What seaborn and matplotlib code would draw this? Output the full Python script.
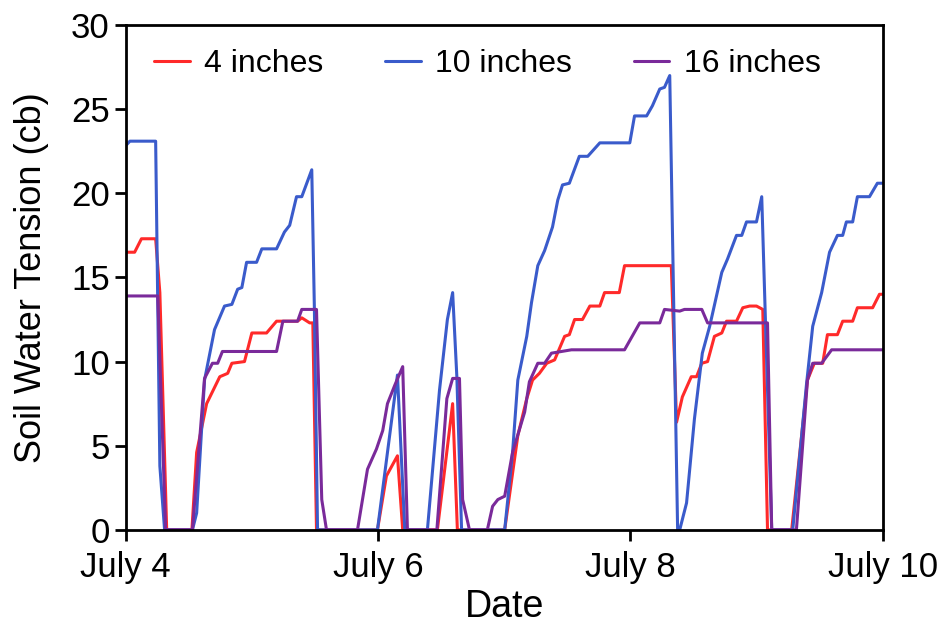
import pandas as pd
import matplotlib
matplotlib.use('Agg')
import matplotlib.pyplot as plt
import seaborn as sns

# hours after midnight of July 4
hours_4in = [0.2, 1.7, 3.0, 5.7, 6.5, 7.8, 12.6, 13.5, 15.4, 17.9, 19.4, 20.2, 22.6, 24.0, 26.8,
             28.7, 32.7, 33.5, 35.0, 35.6, 36.3, 47.9, 49.6, 51.7, 52.7, 59.3, 62.2, 63.1, 72.1,
             74.6, 76.3, 77.4, 78.7, 80.1, 81.6, 83.5, 84.4, 85.4, 86.9, 88.3, 90.2, 91.1, 93.9,
             94.9, 103.8, 104.8, 105.9, 107.6, 108.6, 109.6, 110.7, 112.0, 113.4, 114.3, 116.2,
             117.4, 118.7, 120.0, 121.2, 122.1, 126.7, 129.7, 131.0, 132.6, 133.5, 135.4, 136.4,
             138.3, 139.2, 142.1, 143.4, 144.0]
tension_4in = [16.5, 16.5, 17.3, 17.3, 14.1, 0, 0, 4.6, 7.5, 9.1, 9.3, 9.9, 10.0, 11.7, 11.7,
               12.4, 12.4, 12.6, 12.3, 12.3, 0, 0, 3.2, 4.4, 0, 0, 7.5, 0, 0,
               5.6, 7.8, 8.9, 9.3, 9.9, 10.1, 11.5, 11.6, 12.5, 12.5, 13.3, 13.3, 14.1, 14.1,
               15.7, 15.7, 6.4, 7.9, 9.1, 9.1, 9.9, 10.0, 11.5, 11.7, 12.4, 12.4,
               13.2, 13.3, 13.3, 13.1, 0, 0, 8.9, 9.9, 9.9, 11.6, 11.6, 12.4,
               12.4, 13.2, 13.2, 14.0, 14.0]

hours_10in = [0.2, 0.8, 5.7, 6.5, 7.4, 12.7, 13.5, 15.0, 16.9, 18.8, 20.2, 21.3, 22.1, 23.0,
              24.9, 25.9, 28.7, 30.2, 31.2, 32.5, 33.5, 35.4, 35.9, 36.5, 47.9, 51.7, 53.1,
              57.4, 59.7, 61.2, 62.2, 63.0, 63.9, 72.1, 73.6, 74.6, 76.3, 77.2, 78.4, 79.7,
              81.2, 82.2, 83.1, 84.4, 86.3, 87.9, 90.2, 95.9, 96.8, 99.1, 100.2, 101.6, 102.5,
              103.5, 105.0, 105.4, 106.7, 108.2, 109.7, 111.1, 113.4, 114.5, 116.2, 117.2,
              118.1, 120.0, 121.0, 122.9, 126.9, 129.5, 130.7, 132.4, 133.9, 135.4, 136.4,
              137.1, 138.3, 139.2, 141.5, 143.0, 144.0]
tension_10in = [22.9, 23.1, 23.1, 3.8, 0, 0, 1.0, 8.9, 11.9, 13.3, 13.4, 14.3, 14.4, 15.9,
                15.9, 16.7, 16.7, 17.7, 18.1, 19.8, 19.8, 21.4, 13.1, 0, 0, 9.2, 0,
                0, 8.3, 12.5, 14.1, 9.1, 0, 0, 4.6, 8.9, 11.5, 13.5, 15.7, 16.6,
                18.0, 19.6, 20.5, 20.6, 22.2, 22.2, 23.0, 23.0, 24.6, 24.6, 25.2, 26.2, 26.3,
                27.0, 0, 0, 1.6, 6.6, 10.5, 12.1, 15.3, 16.1, 17.5, 17.5,
                18.3, 18.3, 19.8, 0, 0, 8.6, 12.1, 14.1, 16.5, 17.5, 17.5,
                18.3, 18.3, 19.8, 19.8, 20.6, 20.6]

hours_16in = [0.2, 6.1, 7.6, 12.7, 15.0, 16.5, 17.5, 18.4, 28.7, 29.9, 32.7, 33.5, 36.3, 37.3,
              38.2, 44.1, 46.0, 47.7, 48.9, 49.8, 51.2, 52.7, 53.6, 59.2, 61.1, 62.2, 63.5,
              64.1, 65.4, 68.8, 69.8, 70.8, 72.1, 73.6, 75.9, 76.8, 78.4, 79.7, 81.0, 84.8,
              94.9, 97.8, 101.6, 102.5, 105.4, 106.3, 109.6, 110.7, 122.1, 122.9, 127.6, 129.7,
              130.7, 132.4, 134.3, 144.0]
tension_16in = [13.9, 13.9, 0, 0, 9.0, 9.9, 9.9, 10.6, 10.6, 12.4, 12.4, 13.1, 13.1, 1.8,
                0, 0, 3.6, 4.8, 5.9, 7.5, 8.6, 9.7, 0, 0, 7.8, 9.0, 9.0,
                1.8, 0, 0, 1.4, 1.8, 2.0, 4.6, 7.0, 8.8, 9.9, 9.9, 10.5, 10.7,
                10.7, 12.3, 12.3, 13.1, 13.0, 13.1, 13.1, 12.3, 12.3, 0, 0, 8.9,
                9.9, 9.9, 10.7, 10.7]

depth_labels = ['4 inches', '10 inches', '16 inches']
day_ticks = [0, 2, 4, 6]
day_labels = ['July 4', 'July 6', 'July 8', 'July 10']

frames = []
for label, hrs, vals in zip(depth_labels,
                            [hours_4in, hours_10in, hours_16in],
                            [tension_4in, tension_10in, tension_16in]):
    frames.append(pd.DataFrame({'Day': [h / 24 for h in hrs], 'Tension': vals, 'Depth': label}))
df = pd.concat(frames, ignore_index=True)

sns.set_style('ticks')
plt.rcParams['font.family'] = ['Liberation Sans', 'DejaVu Sans']
plt.rcParams['text.color'] = 'black'
plt.rcParams['axes.labelcolor'] = 'black'
plt.rcParams['xtick.color'] = 'black'
plt.rcParams['ytick.color'] = 'black'

fig, ax = plt.subplots(figsize=(9.45, 6.43), dpi=100)
fig.subplots_adjust(left=0.133, right=0.934, top=0.961, bottom=0.176)

palette = {'4 inches': '#FF2A2A', '10 inches': '#3A5BCB', '16 inches': '#7A2A9A'}
sns.lineplot(data=df, x='Day', y='Tension', hue='Depth', palette=palette,
             estimator=None, sort=False, linewidth=2.2, ax=ax)

ax.set_xlim(0, 6)
ax.set_ylim(0, 30)
ax.set_xticks(day_ticks)
ax.set_xticklabels(day_labels)
ax.set_yticks(range(0, 31, 5))
ax.set_xlabel('Date', fontsize=27, labelpad=4)
ax.set_ylabel('Soil Water Tension (cb)', fontsize=26, labelpad=16)
ax.tick_params(axis='both', labelsize=25, width=2, length=8, direction='out')
ax.tick_params(axis='x', pad=7)
for side in ax.spines.values():
    side.set_linewidth(2)
    side.set_color('black')

ax.legend(ncol=3, loc='upper left', frameon=False, fontsize=23, handlelength=1.1,
          columnspacing=1.95, handletextpad=0.45, bbox_to_anchor=(0.0, 1.01),
          labelcolor='black')

plt.savefig('out.png', dpi=100)
